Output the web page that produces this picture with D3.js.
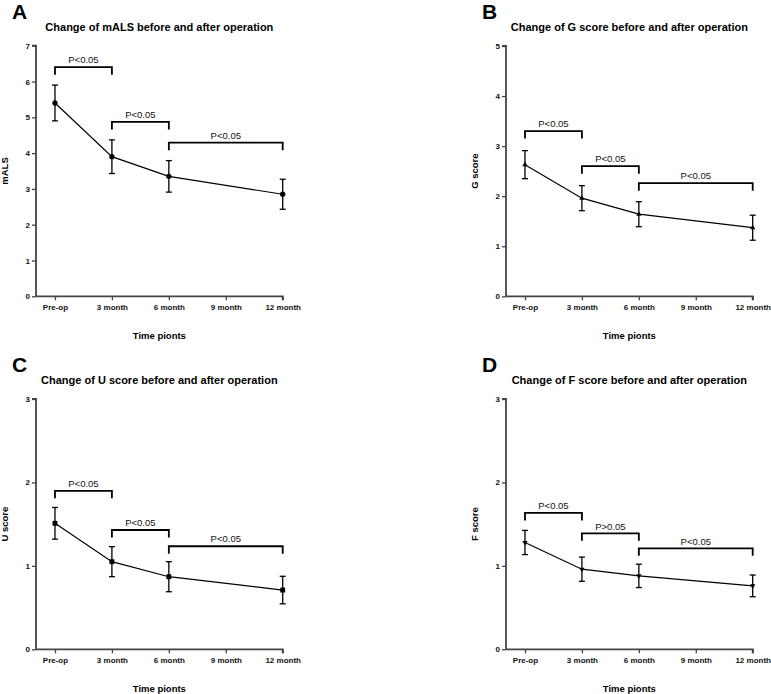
<!DOCTYPE html>
<html><head><meta charset="utf-8">
<script src="https://cdn.jsdelivr.net/npm/d3@7"></script>
<style>body{margin:0;background:#fff}svg{display:block}text{font-family:"Liberation Sans",Arial,sans-serif}</style>
</head><body>
<script>
const months = [0, 3, 6, 9, 12];
const tickLabels = ["Pre-op", "3 month", "6 month", "9 month", "12 month"];
const dataMonths = [0, 3, 6, 12];

const mALSMean = [5.40, 3.90, 3.35, 2.85];
const mALSErr  = [0.50, 0.47, 0.44, 0.42];
const gMean = [2.63, 1.96, 1.64, 1.37];
const gErr  = [0.28, 0.25, 0.25, 0.25];
const uMean = [1.51, 1.05, 0.87, 0.71];
const uErr  = [0.19, 0.18, 0.18, 0.165];
const fMean = [1.28, 0.96, 0.88, 0.76];
const fErr  = [0.145, 0.145, 0.14, 0.13];

const mALSBrackets = [[0, 3, 6.40, "P<0.05"], [3, 6, 4.87, "P<0.05"], [6, 12, 4.29, "P<0.05"]];
const gBrackets = [[0, 3, 3.30, "P<0.05"], [3, 6, 2.60, "P<0.05"], [6, 12, 2.26, "P<0.05"]];
const uBrackets = [[0, 3, 1.90, "P<0.05"], [3, 6, 1.43, "P<0.05"], [6, 12, 1.235, "P<0.05"]];
const fBrackets = [[0, 3, 1.635, "P<0.05"], [3, 6, 1.39, "P>0.05"], [6, 12, 1.21, "P<0.05"]];

const panels = [
  {letter: "A", title: "Change of mALS before and after operation", ylabel: "mALS", ymax: 7, mean: mALSMean, err: mALSErr, brackets: mALSBrackets, marker: "circle", x0: 36, top: 45.7, bottom: 296.3},
  {letter: "B", title: "Change of G score before and after operation", ylabel: "G score", ymax: 5, mean: gMean, err: gErr, brackets: gBrackets, marker: "triangle", x0: 506, top: 46, bottom: 296.3},
  {letter: "C", title: "Change of U score before and after operation", ylabel: "U score", ymax: 3, mean: uMean, err: uErr, brackets: uBrackets, marker: "square", x0: 36, top: 399, bottom: 649.3},
  {letter: "D", title: "Change of F score before and after operation", ylabel: "F score", ymax: 3, mean: fMean, err: fErr, brackets: fBrackets, marker: "invtriangle", x0: 506, top: 399, bottom: 649.3}
];

const W = 771, H = 694;
const svg = d3.select("body").append("svg").attr("width", W).attr("height", H);
const axisColor = "#444";

panels.forEach(p => {
  const g = svg.append("g");
  const x = d3.scaleLinear().domain([-1, 12]).range([p.x0, p.x0 + 246.7]);
  const y = d3.scaleLinear().domain([0, p.ymax]).range([p.bottom, p.top]);
  const cx = (p.x0 + p.x0 + 246.7) / 2;

  g.append("text").attr("x", p.x0 - 24).attr("y", p.top - 27).attr("font-size", 21).attr("font-weight", "bold").text(p.letter);
  g.append("text").attr("x", cx).attr("y", p.top - 15).attr("text-anchor", "middle").attr("font-size", 11).attr("font-weight", "bold").text(p.title);

  const ya = g.append("g").attr("transform", `translate(${p.x0},0)`)
    .call(d3.axisLeft(y).ticks(p.ymax).tickFormat(d3.format("d")).tickSize(4).tickPadding(2));
  const xa = g.append("g").attr("transform", `translate(0,${p.bottom})`)
    .call(d3.axisBottom(x).tickValues(months).tickFormat((d, i) => tickLabels[i]).tickSize(4).tickPadding(4).tickSizeOuter(0));
  [ya, xa].forEach(a => {
    a.select(".domain").attr("stroke", axisColor).attr("stroke-width", 1.8);
    a.selectAll(".tick line").attr("stroke", axisColor).attr("stroke-width", 1.3);
    a.selectAll(".tick text").attr("font-size", 8).attr("font-weight", "bold").attr("fill", "#111").attr("font-family", "Liberation Sans, Arial, sans-serif");
  });
  ya.select(".domain").attr("d", `M-4,${p.top}H0V${p.bottom}`);
  xa.select(".domain").attr("d", `M${p.x0},0H${x(12)}V4`);

  g.append("text").attr("x", cx).attr("y", p.bottom + 42.5).attr("text-anchor", "middle").attr("font-size", 9.5).attr("font-weight", "bold").text("Time pionts");
  g.append("text").attr("transform", `translate(${p.x0 - 28},${(p.top + p.bottom) / 2}) rotate(-90)`).attr("text-anchor", "middle").attr("font-size", 9.5).attr("font-weight", "bold").text(p.ylabel);

  const pts = dataMonths.map((m, i) => ({m, v: p.mean[i], e: p.err[i]}));
  g.append("path").datum(pts).attr("fill", "none").attr("stroke", "#000").attr("stroke-width", 1.2)
    .attr("d", d3.line().x(d => x(d.m)).y(d => y(d.v)));
  const eb = g.selectAll(".eb").data(pts).enter().append("g");
  eb.append("line").attr("x1", d => x(d.m)).attr("x2", d => x(d.m)).attr("y1", d => y(d.v - d.e)).attr("y2", d => y(d.v + d.e)).attr("stroke", "#000").attr("stroke-width", 1.3);
  eb.append("line").attr("x1", d => x(d.m) - 3).attr("x2", d => x(d.m) + 3).attr("y1", d => y(d.v + d.e)).attr("y2", d => y(d.v + d.e)).attr("stroke", "#000").attr("stroke-width", 1.3);
  eb.append("line").attr("x1", d => x(d.m) - 3).attr("x2", d => x(d.m) + 3).attr("y1", d => y(d.v - d.e)).attr("y2", d => y(d.v - d.e)).attr("stroke", "#000").attr("stroke-width", 1.3);
  const symType = {circle: d3.symbolCircle, triangle: d3.symbolTriangle, square: d3.symbolSquare, invtriangle: d3.symbolTriangle}[p.marker];
  const symSize = {circle: 22, triangle: 12, square: 24, invtriangle: 12}[p.marker];
  g.selectAll(".mk").data(pts).enter().append("path")
    .attr("transform", d => `translate(${x(d.m)},${y(d.v)})` + (p.marker === "invtriangle" ? " rotate(180)" : ""))
    .attr("d", d3.symbol().type(symType).size(symSize)).attr("fill", "#000");

  p.brackets.forEach(b => {
    const [a, c, v, lab] = b;
    const yy = y(v);
    g.append("path").attr("fill", "none").attr("stroke", "#000").attr("stroke-width", 1.8)
      .attr("d", `M${x(a)},${yy + 7.5}V${yy}H${x(c)}V${yy + 7.5}`);
    g.append("text").attr("x", (x(a) + x(c)) / 2).attr("y", yy - 3.8).attr("text-anchor", "middle").attr("font-size", 9.5).attr("fill", "#111").text(lab);
  });
});
</script>
</body></html>
